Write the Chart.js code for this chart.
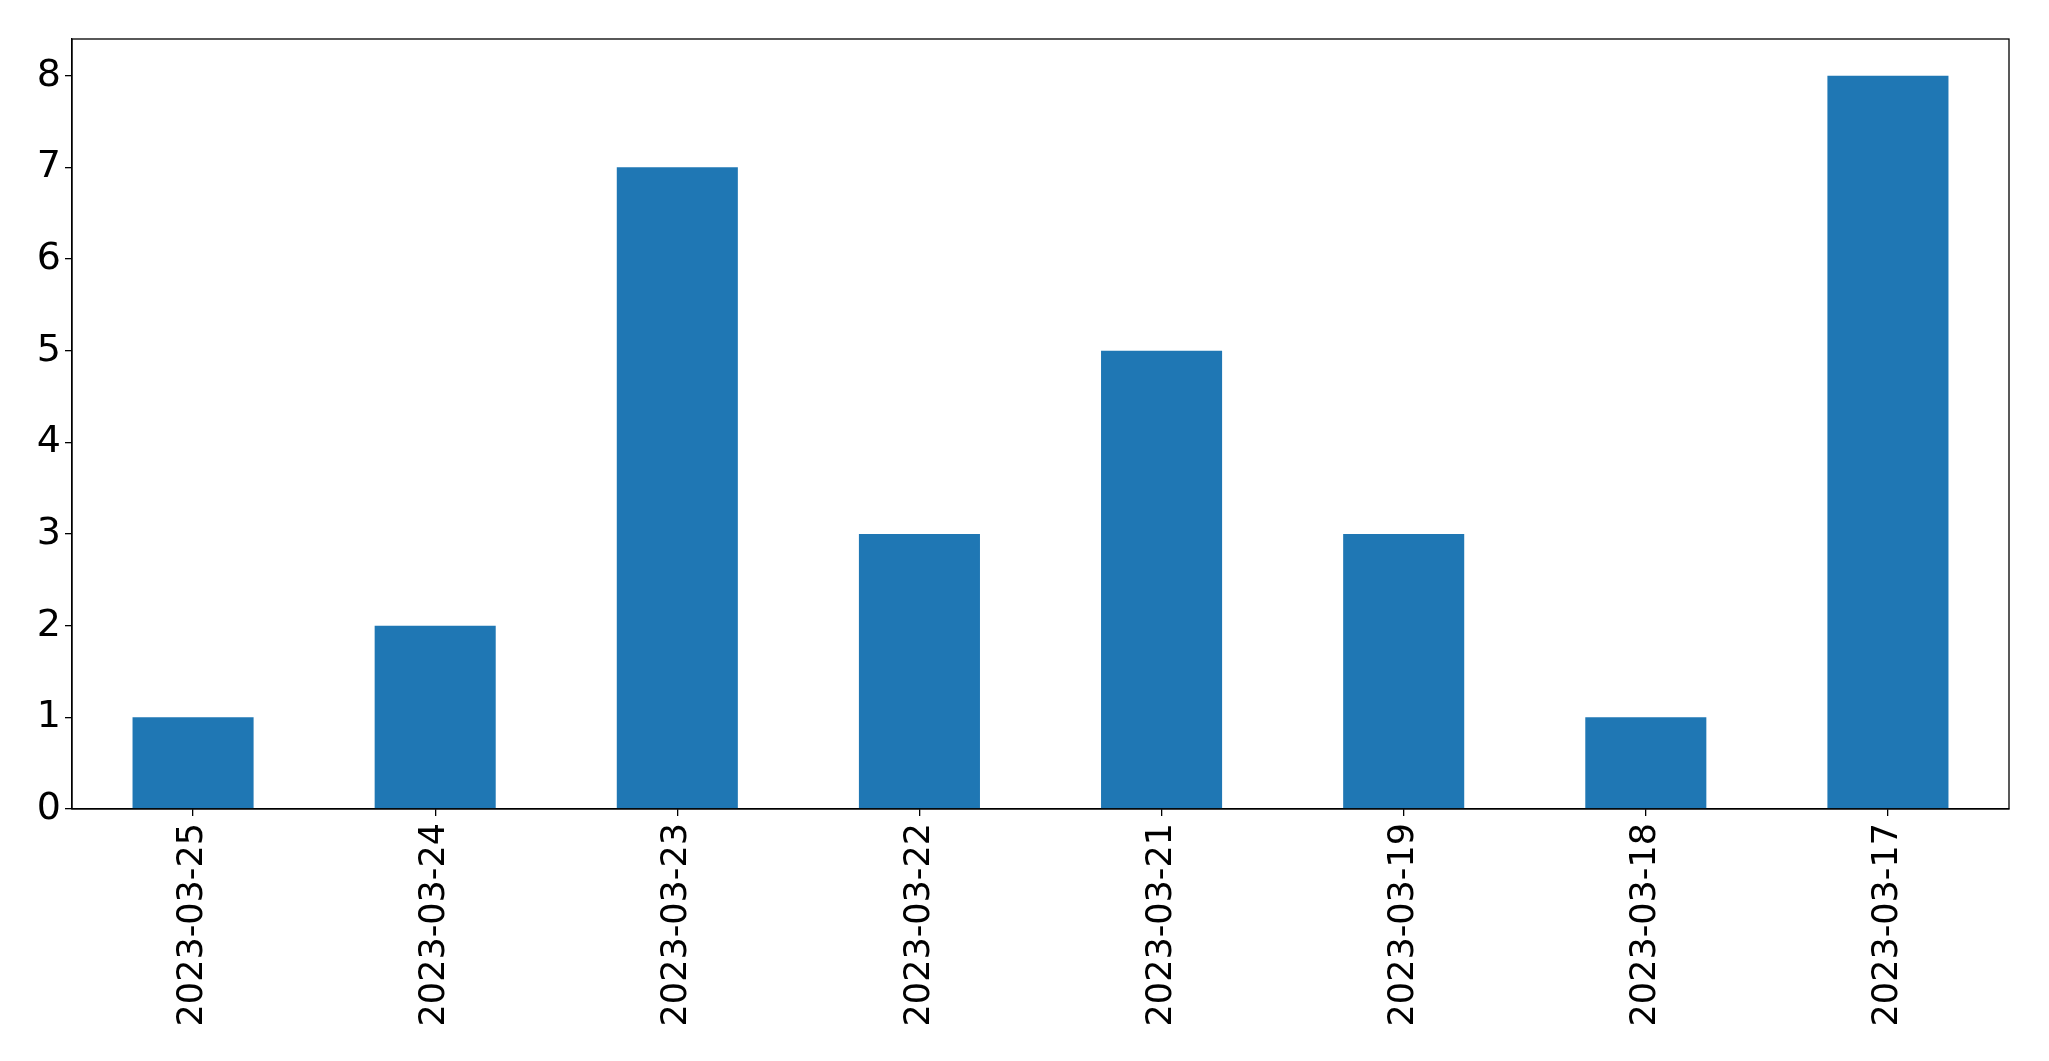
<!DOCTYPE html>
<html>
<head>
<meta charset="utf-8">
<script src="https://cdn.jsdelivr.net/npm/chart.js@4"></script>
<style>
  html, body { margin: 0; padding: 0; background: #fff; }
  canvas { display: block; }
</style>
</head>
<body>
<canvas id="chart" width="2049" height="1061"></canvas>
<script>
// --- Dados ---
const dates = ['2023-03-25', '2023-03-24', '2023-03-23', '2023-03-22', '2023-03-21', '2023-03-19', '2023-03-18', '2023-03-17'];
const counts = [1, 2, 7, 3, 5, 3, 1, 8];
const yMax = 8.4;

// moldura em volta da area do grafico
const frame = {
    id: 'frame',
    afterDraw(chart) {
        const a = chart.chartArea;
        const ctx = chart.ctx;
        ctx.save();
        ctx.strokeStyle = '#000';
        ctx.lineWidth = 1.3;
        ctx.strokeRect(a.left, a.top, a.right - a.left, a.bottom - a.top);
        ctx.restore();
    }
};

const family = '"DejaVu Sans", sans-serif';

new Chart(document.getElementById('chart'), {
    type: 'bar',
    data: {
        labels: dates,
        datasets: [{
            data: counts,
            backgroundColor: '#1f77b4',
            barPercentage: 0.5,
            categoryPercentage: 1
        }]
    },
    options: {
        responsive: false,
        animation: false,
        layout: { padding: { top: 39, right: 40, left: 0, bottom: 0 } },
        plugins: { legend: { display: false }, tooltip: { enabled: false } },
        scales: {
            x: {
                offset: true,
                grid: { display: true, offset: false, drawOnChartArea: false, drawTicks: true, tickLength: 7, color: '#000', lineWidth: 1.3 },
                border: { display: true, color: '#000', width: 1.3 },
                ticks: { color: '#000', font: { family, size: 35 }, minRotation: 90, maxRotation: 90, padding: 7, autoSkip: false },
                afterFit: s => { s.height = 252; }
            },
            y: {
                min: 0,
                max: yMax,
                grid: { display: true, drawOnChartArea: false, drawTicks: true, tickLength: 7, color: '#000', lineWidth: 1.3 },
                border: { display: true, color: '#000', width: 1.3 },
                ticks: { color: '#000', font: { family, size: 38 }, stepSize: 1, includeBounds: false, padding: 4 },
                afterFit: s => { s.width = 72; }
            }
        }
    },
    plugins: [frame]
});
</script>
</body>
</html>
